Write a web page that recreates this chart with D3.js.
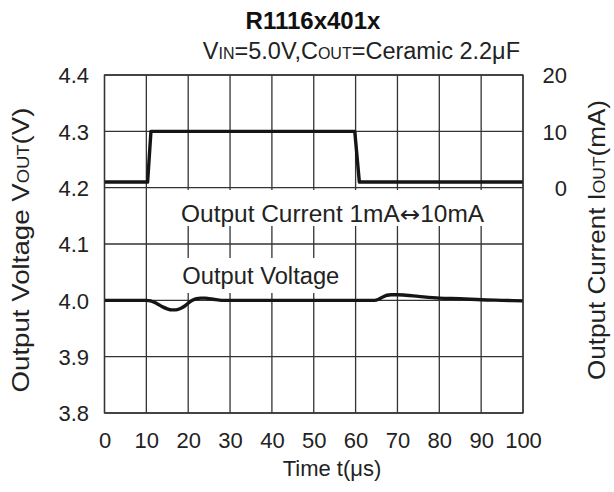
<!DOCTYPE html>
<html>
<head>
<meta charset="utf-8">
<script src="https://cdn.jsdelivr.net/npm/d3@7"></script>
<style>
  html, body { margin: 0; padding: 0; background: #fff; }
  svg { display: block; }
  text { font-family: "Liberation Sans", Arial, Helvetica, sans-serif; fill: #222; }
</style>
</head>
<body>
<svg id="chart" width="614" height="492"></svg>
<script>
// ---- data ----
const xTicks = [0, 10, 20, 30, 40, 50, 60, 70, 80, 90, 100];
const yLeftTicks = [3.8, 3.9, 4.0, 4.1, 4.2, 4.3, 4.4];
const yRightTicks = [0, 10, 20];

// output current (mA) vs time (us)
const currentTime = [0, 10.3, 11.1, 59.8, 60.9, 100];
const currentVal  = [1, 1, 10, 10, 1, 1];

// output voltage (V) vs time (us)
const voltageTime = [0, 5, 10, 11, 12, 13, 14, 15, 16, 17, 18, 19, 20, 21, 22, 23, 24, 25, 26, 28, 30, 40, 50, 60, 63, 64.5, 65.5, 66.5, 67.5, 68.5, 70, 72, 75, 80, 85, 90, 95, 100];
const voltageVal  = [4.000, 4.000, 4.000, 3.999, 3.996, 3.992, 3.988, 3.985, 3.983, 3.983, 3.985, 3.989, 3.995, 4.000, 4.003, 4.004, 4.004, 4.003, 4.002, 4.000, 4.000, 4.000, 4.000, 4.000, 4.000, 4.000, 4.002, 4.006, 4.009, 4.010, 4.010, 4.009, 4.007, 4.004, 4.003, 4.001, 4.000, 3.999];

// ---- layout ----
const svg = d3.select("#chart");
const L = 104.5, R = 523, T = 75, B = 413;

const x = d3.scaleLinear().domain([0, 100]).range([L, R]);
const yL = d3.scaleLinear().domain([3.8, 4.4]).range([B, T]);
const yR = d3.scaleLinear().domain([-40, 20]).range([B, T]);

const gridColor = "#333";
const FONT = "Liberation Sans, Arial, sans-serif";

// grid
const g = svg.append("g");
g.selectAll("line.v").data(xTicks).join("line")
  .attr("x1", d => x(d)).attr("x2", d => x(d))
  .attr("y1", T).attr("y2", B)
  .attr("stroke", gridColor).attr("stroke-width", 1.3);
g.selectAll("line.h").data(yLeftTicks).join("line")
  .attr("x1", L).attr("x2", R)
  .attr("y1", d => yL(d)).attr("y2", d => yL(d))
  .attr("stroke", gridColor).attr("stroke-width", 1.3);

// axes (labels only)
const xAxis = d3.axisBottom(x).tickValues(xTicks).tickSize(0).tickPadding(0).tickFormat(d3.format("d"));
const ax = svg.append("g").attr("transform", `translate(0,${B})`).call(xAxis);
ax.select(".domain").remove();
ax.selectAll("text").attr("y", 35).attr("dy", 0).attr("font-size", 22).style("fill", "#222")
  .attr("font-family", FONT);

const yAxisL = d3.axisLeft(yL).tickValues(yLeftTicks).tickSize(0).tickPadding(0).tickFormat(d3.format(".1f"));
const ayl = svg.append("g").attr("transform", `translate(89,0)`).call(yAxisL);
ayl.select(".domain").remove();
ayl.selectAll("text").attr("x", 0).attr("dy", "0.36em").attr("font-size", 22).style("fill", "#222")
  .attr("font-family", FONT);

const yAxisR = d3.axisRight(yR).tickValues(yRightTicks).tickSize(0).tickPadding(0).tickFormat(d3.format("d"));
const ayr = svg.append("g").attr("transform", `translate(567,0)`).call(yAxisR);
ayr.select(".domain").remove();
ayr.selectAll("text").attr("x", 0).attr("text-anchor", "end").attr("dy", "0.36em").attr("font-size", 22).style("fill", "#222")
  .attr("font-family", FONT);

// annotations with white backgrounds
const annG = svg.append("g");
function label(parts, xx, yy, len, boxTop, boxBottom) {
  const t = annG.append("text").attr("x", xx).attr("y", yy).attr("font-size", 23)
    .attr("textLength", len).attr("lengthAdjust", "spacingAndGlyphs");
  parts.forEach(p => {
    const s = t.append("tspan").text(p.t);
    if (p.f) s.attr("font-family", p.f);
  });
  const bb = t.node().getBBox();
  annG.insert("rect", () => t.node())
    .attr("x", bb.x - 3).attr("y", boxTop).attr("width", bb.width + 6).attr("height", boxBottom - boxTop)
    .attr("fill", "#fff");
  return t;
}
label([{t: "Output Current 1mA"}, {t: "\u2194", f: "DejaVu Sans"}, {t: "10mA"}], x(18.3), 222, 303, 190, 226);
label([{t: "Output Voltage"}], x(18.6), 284, 157, 258, 293);

// lines
const lineI = d3.line().x(d => x(d[0])).y(d => yR(d[1]));
svg.append("path")
  .datum(currentTime.map((t, i) => [t, currentVal[i]]))
  .attr("d", lineI).attr("fill", "none").attr("stroke", "#151515").attr("stroke-width", 3.4)
  .attr("stroke-linejoin", "round");

const lineV = d3.line().x(d => x(d[0])).y(d => yL(d[1])).curve(d3.curveMonotoneX);
svg.append("path")
  .datum(voltageTime.map((t, i) => [t, voltageVal[i]]))
  .attr("d", lineV).attr("fill", "none").attr("stroke", "#151515").attr("stroke-width", 3.4)
  .attr("stroke-linejoin", "round");

// border on top
svg.append("rect").attr("x", L).attr("y", T).attr("width", R - L).attr("height", B - T)
  .attr("fill", "none").attr("stroke", gridColor).attr("stroke-width", 1.3);

// title & subtitle
svg.append("text").attr("x", 313).attr("y", 29).attr("text-anchor", "middle")
  .attr("font-size", 24).attr("font-weight", "bold").style("fill", "#111").text("R1116x401x");

const sub = svg.append("text").attr("x", 520).attr("y", 59).attr("text-anchor", "end").attr("font-size", 23.5);
sub.append("tspan").text("V");
sub.append("tspan").attr("font-size", 16).text("IN");
sub.append("tspan").text("=5.0V,C");
sub.append("tspan").attr("font-size", 16).text("OUT");
sub.append("tspan").text("=Ceramic 2.2\u03bcF");

// axis titles
svg.append("text").attr("x", 332).attr("y", 476).attr("text-anchor", "middle").attr("font-size", 22)
  .text("Time t(\u03bcs)");

const lt = svg.append("text").attr("transform", "translate(29,250) rotate(-90)").attr("text-anchor", "middle").attr("font-size", 24)
  .attr("textLength", 285).attr("lengthAdjust", "spacingAndGlyphs");
lt.append("tspan").text("Output Voltage V");
lt.append("tspan").attr("font-size", 16).text("OUT");
lt.append("tspan").text("(V)");

const rt = svg.append("text").attr("transform", "translate(605,240) rotate(-90)").attr("text-anchor", "middle").attr("font-size", 24)
  .attr("textLength", 280).attr("lengthAdjust", "spacingAndGlyphs");
rt.append("tspan").text("Output Current I");
rt.append("tspan").attr("font-size", 16).text("OUT");
rt.append("tspan").text("(mA)");
</script>
</body>
</html>
